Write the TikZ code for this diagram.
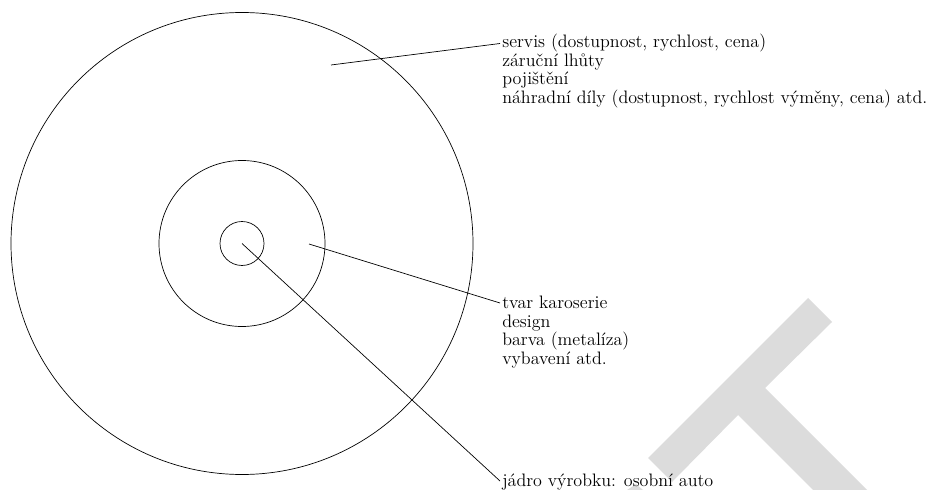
\documentclass[tikz,border=0pt]{standalone}
\usepackage{fontspec}
\definecolor{wmgray}{RGB}{220,220,220}
\begin{document}
\begin{tikzpicture}[x=0.649pt,y=-0.649pt,
  ring/.style={draw=black,line width=0.45pt},
  leader/.style={draw=black,line width=0.45pt},
  label/.style={anchor=north west,inner sep=0pt,align=left,font=\fontsize{11.7}{12.2}\selectfont},
  watermark/.style={fill=wmgray,draw=none}]
\useasboundingbox (0,0) rectangle (941,490);
% watermark
\fill[watermark] (808,298) -- (832,322) -- (765,388) -- (867,490) -- (813,490)
  -- (738,415) -- (672,482) -- (648,458) -- cycle;
\fill[watermark] (627,490) -- (636,484) -- (643,490) -- cycle;
% rings
\coordinate (c) at (242,243.5);
\draw[ring] (c) circle[radius=231];
\draw[ring] (c) circle[radius=83];
\draw[ring] (c) circle[radius=22];
% labels
\node[label] (t1) at (502,33.5) {servis (dostupnost, rychlost, cena)\\ záruční lhůty\\ pojištění\\ náhradní díly (dostupnost, rychlost výměny, cena) atd.};
\node[label] (t2) at (502,295.5) {tvar karoserie\\ design\\ barva (metalíza)\\ vybavení atd.};
\node[label] (t3) at (502,474) {jádro výrobku: osobní auto};
% leader ends
\coordinate (s1) at (331,65);
\coordinate (e1) at (500,43.5);
\coordinate (s2) at (309,244);
\coordinate (e2) at (500,303);
\coordinate (e3) at (500,481);
\draw[leader] (s1) -- (e1);
\draw[leader] (s2) -- (e2);
\draw[leader] (c) -- (e3);
\end{tikzpicture}
\end{document}
